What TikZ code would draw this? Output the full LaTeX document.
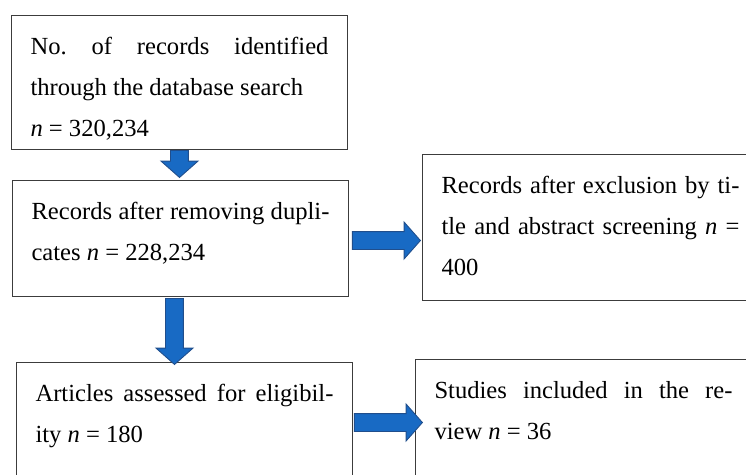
\documentclass[tikz,border=0pt]{standalone}
\usepackage{fontspec}
\setmainfont{Liberation Serif}
\usetikzlibrary{shapes.arrows,calc}
\definecolor{arrowfill}{RGB}{24,106,196}
\definecolor{arrowline}{RGB}{32,78,140}
\definecolor{frame}{RGB}{60,60,60}
\begin{document}
\begin{tikzpicture}[
    x=0.02cm, y=-0.02cm,
    box/.style={draw=frame, line width=0.6pt, anchor=north west, inner xsep=0.38cm, inner ysep=0pt,
        text width=5.96cm, text height=0.78cm, align=justify,
        font=\fontsize{14pt}{23.3pt}\selectfont},
    blockarrow/.style={single arrow, draw=arrowline, fill=arrowfill, line width=0.5pt,
        minimum width=0.72cm, single arrow head extend=0.19cm, single arrow tip angle=97,
        inner xsep=0pt, inner ysep=0.17cm, anchor=tail}
]
\path[use as bounding box, clip] (0,0) rectangle (746,474);
\node[box, text depth=1.9cm] (search) at (11,15)
    {No.\ of records identified\linebreak through the database search\newline \textit{n} = 320,234};
\node[box, text depth=1.54cm] (dedup) at (12,180)
    {Records after removing dupli-\linebreak cates \textit{n} = 228,234};
\node[box, text depth=2.14cm] (screen) at (422,154)
    {Records after exclusion by ti-\linebreak tle and abstract screening \textit{n} =\linebreak 400};
\node[box, text depth=1.58cm] (eligible) at (16,362)
    {Articles assessed for eligibil-\linebreak ity \textit{n} = 180};
\node[box, text depth=1.64cm] (included) at (415,359)
    {Studies included in the re-\linebreak view \textit{n} = 36};
\node[blockarrow, rotate=-90, minimum height=0.54cm] (a1) at (search.south) {};
\node[blockarrow, minimum height=1.36cm] (a2) at ($(dedup.east)+(3,2)$) {};
\node[blockarrow, rotate=-90, minimum height=1.32cm] (a3) at ($(dedup.south)+(-6,1)$) {};
\node[blockarrow, minimum height=1.36cm] (a4) at ($(eligible.east)+(1,1)$) {};
\end{tikzpicture}
\end{document}
